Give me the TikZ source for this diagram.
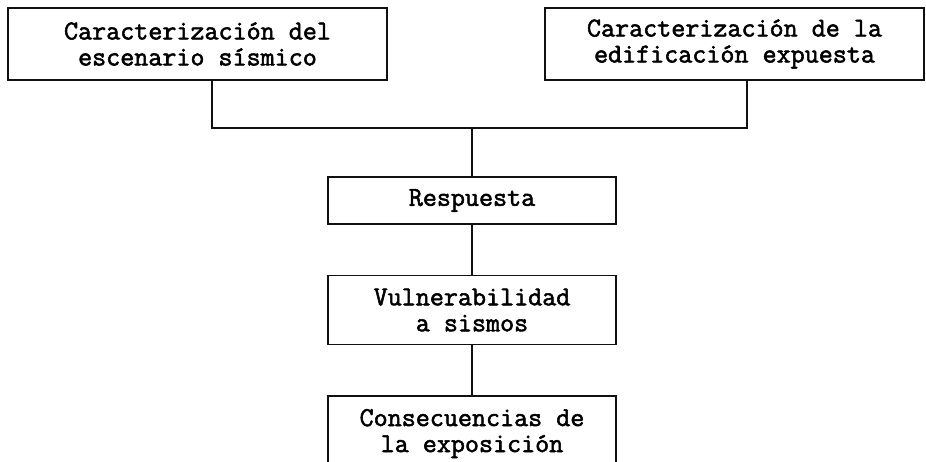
\documentclass[tikz,border=0pt]{standalone}
\usepackage{fontspec}
\newfontfamily\boxfont{Latin Modern Mono}[FakeBold=2]
\usetikzlibrary{positioning,calc}
\definecolor{Line}{HTML}{111111}

\begin{document}
\begin{tikzpicture}[
 x=0.25mm,y=-0.25mm,
 node distance=12.5mm,
 t/.style={draw=Line,line width=1.1pt,minimum width=94.75mm,minimum height=18mm,align=center,inner sep=0pt,font=\boxfont\fontsize{19.4}{18.5}\selectfont},
 m/.style={draw=Line,line width=1.1pt,minimum width=72mm,minimum height=17.25mm,align=center,inner sep=0pt,font=\boxfont\fontsize{19.4}{18.5}\selectfont},
 a/.style={draw=Line,line width=1.1pt}
]
\useasboundingbox (0,0) rectangle (926,462);
\node[t] (esc) at (197.5,44) {Caracterización del\\escenario sísmico};
\node[t] (edi) at (734.5,44) {Caracterización de la\\edificación expuesta};
\node[m,minimum height=11.75mm] (resp) at (472,200.5) {Respuesta};
\node[m,below=of resp] (vul) {Vulnerabilidad\\a sismos};
\node[m,below=of vul,minimum height=18.75mm,anchor=north] (cons) {Consecuencias de\\la exposición};
\coordinate (j) at (472,128);
\draw[a] ([xshift=3.6mm]esc.south) |- (j) -| ([xshift=3.1mm]edi.south);
\draw[a] (j)--(resp);\draw[a] (resp)--(vul);\draw[a] (vul)--(cons);
\end{tikzpicture}
\end{document}
